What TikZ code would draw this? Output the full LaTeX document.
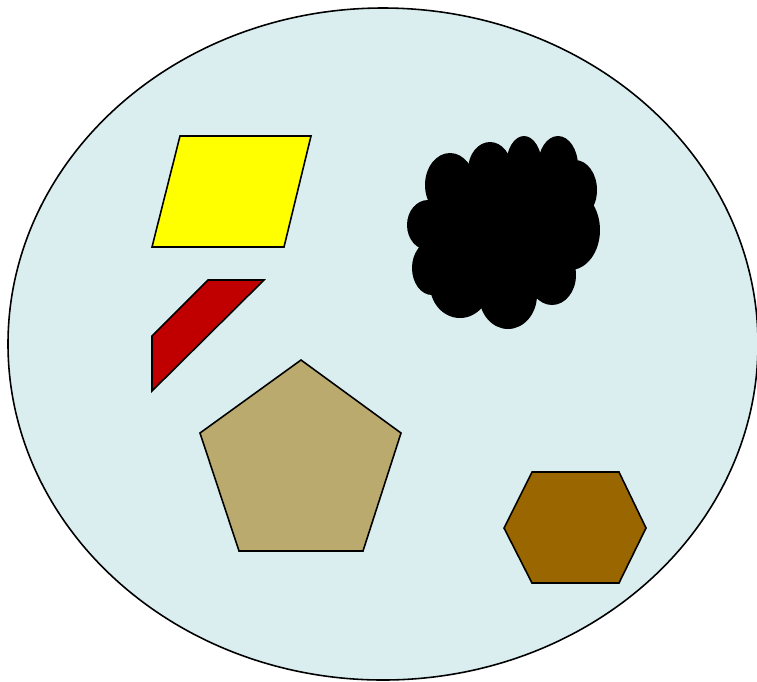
\documentclass[tikz,border=0pt]{standalone}
\usepackage{tikz}
\usetikzlibrary{positioning}

\definecolor{dishblue}{RGB}{218,238,240}
\definecolor{pureyellow}{RGB}{255,255,0}
\definecolor{darkred}{RGB}{192,0,0}
\definecolor{khaki}{RGB}{187,170,110}
\definecolor{darkbrown}{RGB}{153,102,0}

\begin{document}
\begin{tikzpicture}[
    x=0.02cm, y=-0.02cm,
    outline/.style={draw=black, line width=0.9pt, line join=miter},
    puff/.style={fill=black, draw=none},
]
\useasboundingbox (0,0) rectangle (757,681);
% Dish in the background
\draw[outline, fill=dishblue] (383,344) ellipse [x radius=375, y radius=336];
% Yellow parallelogram
\draw[outline, fill=pureyellow] (180,136) -- (311,136) -- (284,247) -- (152,247) -- cycle;
% Red trapezoid
\draw[outline, fill=darkred] (208,280) -- (264,280) -- (152,391) -- (152,336) -- cycle;
% Pentagon
\draw[outline, fill=khaki] (301,360) -- (401,433) -- (363,551) -- (239,551) -- (200,433) -- cycle;
% Hexagon
\draw[outline, fill=darkbrown] (532,472) -- (619,472) -- (646,528) -- (619,583) -- (532,583) -- (504,528) -- cycle;
% Black cloud made of puffs
\fill[puff] (505,232) ellipse [x radius=70, y radius=70];
\foreach \cx/\cy/\rx/\ry in {450/185/25/32, 490/170/22/28, 524/166/18/30, 558/166/20/30,
    575/190/22/30, 570/230/30/40, 552/275/24/30, 508/295/29/34, 460/285/30/33,
    432/268/20/27, 428/225/21/25}
  \fill[puff] (\cx,\cy) ellipse [x radius=\rx, y radius=\ry];
\end{tikzpicture}
\end{document}
